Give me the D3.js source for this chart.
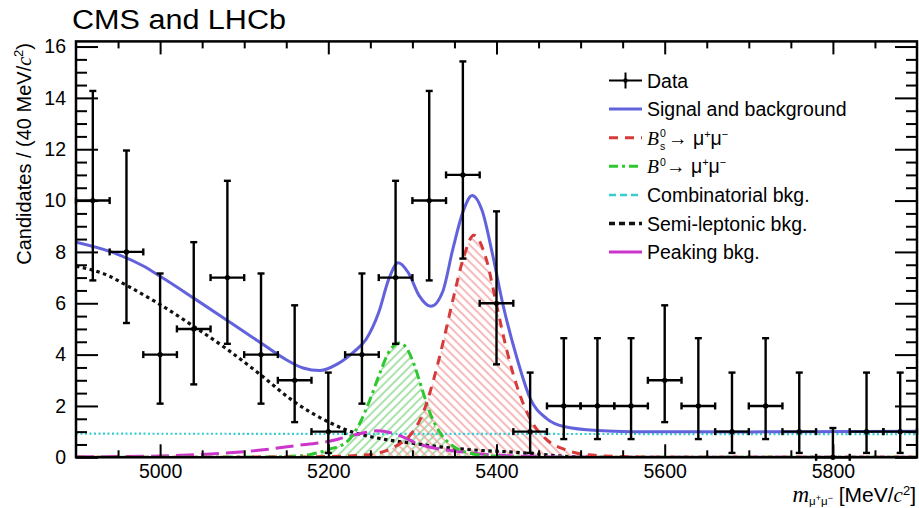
<!DOCTYPE html>
<html>
<head>
<meta charset="utf-8">
<script src="https://cdn.jsdelivr.net/npm/d3@7"></script>
<style>
  body { margin: 0; background: #fff; }
  svg { display: block; }
  text { font-family: "Liberation Sans", Arial, Helvetica, sans-serif; fill: #000; }
</style>
</head>
<body>
<svg id="chart" width="919" height="508"></svg>
<script>
// ---- Data: candidates per 40 MeV/c^2 bin ----
const binCenters = [4920, 4960, 5000, 5040, 5080, 5120, 5160, 5200, 5240, 5280, 5320, 5360, 5400,
                    5440, 5480, 5520, 5560, 5600, 5640, 5680, 5720, 5760, 5800, 5840, 5880];
const counts     = [10, 8, 4, 5, 7, 4, 3, 1, 4, 7, 10, 11, 6, 1, 2, 2, 2, 3, 2, 1, 2, 1, 0, 1, 1];
const errLow     = [3.11, 2.77, 1.91, 2.16, 2.58, 1.91, 1.63, 0.83, 1.91, 2.58, 3.11, 3.26, 2.38,
                    0.83, 1.29, 1.29, 1.29, 1.63, 1.29, 0.83, 1.29, 0.83, 0, 0.83, 0.83];
const errHigh    = [4.27, 3.95, 3.16, 3.38, 3.77, 3.16, 2.92, 2.30, 3.16, 3.77, 4.27, 4.42, 3.58,
                    2.30, 2.64, 2.64, 2.64, 2.92, 2.64, 2.30, 2.64, 2.30, 1.14, 2.30, 2.30];
const binHalfWidth = 20;

// ---- Fit components, [mass, candidates] ----
const signalAndBackground = [
  [4900, 8.38], [4940, 8.02], [4980, 7.45], [5000, 7.05], [5040, 6.2], [5080, 5.33], [5120, 4.45],
  [5150, 3.8], [5170, 3.48], [5190, 3.38], [5210, 3.62], [5230, 4.1], [5245, 4.6], [5260, 5.65],
  [5272, 6.95], [5283, 7.58], [5295, 7.2], [5308, 6.3], [5322, 5.88], [5336, 6.45], [5348, 8.1],
  [5360, 9.55], [5371, 10.2], [5383, 9.6], [5395, 7.95], [5408, 5.9], [5424, 3.9], [5440, 2.3],
  [5460, 1.5], [5480, 1.2], [5520, 1.04], [5560, 1.0], [5700, 0.99], [5900, 1.01]
];
const bsSignal = [
  [4900, 0], [5150, 0.01], [5200, 0.03], [5240, 0.08], [5261, 0.18], [5281, 0.45], [5297, 0.85],
  [5313, 1.75], [5325, 3.0], [5337, 4.55], [5349, 6.25], [5361, 7.8], [5373, 8.65], [5388, 7.7],
  [5400, 5.95], [5412, 4.2], [5424, 2.8], [5440, 1.5], [5460, 0.68], [5483, 0.28], [5507, 0.1],
  [5550, 0.03], [5600, 0], [5900, 0]
];
const bdSignal = [
  [4900, 0], [5100, 0.01], [5150, 0.03], [5180, 0.12], [5200, 0.3], [5222, 0.6], [5237, 1.3],
  [5249, 2.2], [5261, 3.25], [5272, 4.1], [5285, 4.45], [5295, 4.15], [5301, 3.7], [5313, 2.5],
  [5321, 1.72], [5333, 0.95], [5349, 0.42], [5368, 0.16], [5400, 0.04], [5450, 0], [5900, 0]
];
const combinatorialBkg = [[4900, 0.92], [5400, 0.91], [5900, 0.9]];
const semiLeptonicBkg = [
  [4900, 7.45], [4940, 7.05], [4960, 6.7], [5000, 5.95], [5040, 5.1], [5080, 4.2], [5120, 3.2],
  [5160, 2.15], [5200, 1.38], [5222, 1.06], [5260, 0.74], [5300, 0.55], [5340, 0.38], [5380, 0.27],
  [5420, 0.2], [5450, 0.12], [5480, 0.04], [5520, 0], [5900, 0]
];
const peakingBkg = [
  [4900, 0.02], [5000, 0.05], [5060, 0.13], [5120, 0.28], [5160, 0.45], [5200, 0.62], [5220, 0.78],
  [5240, 0.94], [5258, 1.03], [5275, 0.95], [5290, 0.78], [5305, 0.55], [5320, 0.4], [5357, 0.22],
  [5396, 0.09], [5450, 0.03], [5500, 0.01], [5600, 0], [5900, 0]
];

// ---- Axes ----
const xDomain = [4900, 5900];
const yDomain = [0, 16.2];
const xMajorTicks = [5000, 5200, 5400, 5600, 5800];
const xTickLabels = ["5000", "5200", "5400", "5600", "5800"];
const yMajorTicks = [0, 2, 4, 6, 8, 10, 12, 14, 16];
const yTickLabels = ["0", "2", "4", "6", "8", "10", "12", "14", "16"];
const xMinorTicks = d3.range(4950, 5900, 50).filter(v => !xMajorTicks.includes(v));
const yMinorTicks = d3.range(0.5, 16.2, 0.5).filter(v => !yMajorTicks.includes(v));

const legendLabels = ["Data", "Signal and background", "Bs", "Bd",
                      "Combinatorial bkg.", "Semi-leptonic bkg.", "Peaking bkg."];

const colors = {
  total: "#6262dc", bs: "#d63a3a", bd: "#2fc72f", comb: "#35cdd2",
  semi: "#111", peak: "#cc35cc", bsHatch: "#f3a3a3", bdHatch: "#8fd98f"
};

const plot = { left: 76, right: 917, top: 41.4, bottom: 457.3 };
const svg = d3.select("#chart");
const x = d3.scaleLinear(xDomain, [plot.left, plot.right]);
const y = d3.scaleLinear(yDomain, [plot.bottom, plot.top]);

const defs = svg.append("defs");
defs.append("clipPath").attr("id", "plotClip").append("rect")
  .attr("x", plot.left).attr("y", plot.top)
  .attr("width", plot.right - plot.left).attr("height", plot.bottom - plot.top);

function hatch(id, color, angle) {
  const p = defs.append("pattern").attr("id", id).attr("patternUnits", "userSpaceOnUse")
    .attr("width", 6).attr("height", 6).attr("patternTransform", `rotate(${angle})`);
  p.append("line").attr("x1", 3).attr("y1", 0).attr("x2", 3).attr("y2", 6)
    .attr("stroke", color).attr("stroke-width", 1.5);
}
hatch("hatchBs", colors.bsHatch, -45);
hatch("hatchBd", colors.bdHatch, 45);

const g = svg.append("g").attr("clip-path", "url(#plotClip)");

const area = d3.area().x(d => x(d[0])).y0(y(0)).y1(d => y(d[1])).curve(d3.curveMonotoneX);
const line = d3.line().x(d => x(d[0])).y(d => y(d[1])).curve(d3.curveMonotoneX);

// hatched signal areas
g.append("path").attr("d", area(bdSignal)).attr("fill", "url(#hatchBd)");
g.append("path").attr("d", area(bsSignal)).attr("fill", "url(#hatchBs)");

// component curves
const curves = [
  { data: combinatorialBkg, color: colors.comb, width: 2.2, dash: "2,2.5" },
  { data: semiLeptonicBkg, color: colors.semi, width: 3.2, dash: "3.5,3.5" },
  { data: peakingBkg, color: colors.peak, width: 3, dash: "18,7" },
  { data: bdSignal, color: colors.bd, width: 3, dash: "10,4,3,4" },
  { data: bsSignal, color: colors.bs, width: 3, dash: "9,7" },
  { data: signalAndBackground, color: colors.total, width: 3, dash: null }
];
curves.forEach(c => {
  g.append("path").attr("d", line(c.data)).attr("fill", "none")
    .attr("stroke", c.color).attr("stroke-width", c.width)
    .attr("stroke-dasharray", c.dash);
});

// data points with asymmetric errors
const pts = svg.append("g").attr("stroke", "#000").attr("stroke-width", 2.4);
const cap = 3.5;
binCenters.forEach((m, i) => {
  const cx = x(m), cy = y(counts[i]);
  const xl = x(m - binHalfWidth), xr = x(m + binHalfWidth);
  const yt = y(counts[i] + errHigh[i]), yb = y(counts[i] - errLow[i]);
  pts.append("line").attr("x1", xl).attr("x2", xr).attr("y1", cy).attr("y2", cy);
  pts.append("line").attr("x1", cx).attr("x2", cx).attr("y1", yt).attr("y2", yb);
  pts.append("line").attr("x1", xl).attr("x2", xl).attr("y1", cy - cap).attr("y2", cy + cap);
  pts.append("line").attr("x1", xr).attr("x2", xr).attr("y1", cy - cap).attr("y2", cy + cap);
  pts.append("line").attr("x1", cx - cap).attr("x2", cx + cap).attr("y1", yt).attr("y2", yt);
  if (errLow[i] > 0)
    pts.append("line").attr("x1", cx - cap).attr("x2", cx + cap).attr("y1", yb).attr("y2", yb);
  pts.append("circle").attr("cx", cx).attr("cy", cy).attr("r", 2.6).attr("fill", "#000").attr("stroke", "none");
});

// axes: ticks on all four sides, pointing inward
function styleAxis(sel) {
  sel.select(".domain").remove();
  sel.selectAll(".tick line").attr("stroke", "#000").attr("stroke-width", 2);
  sel.selectAll(".tick text").attr("font-size", 19.5).attr("fill", "#000")
    .attr("font-family", '"Liberation Sans", Arial, sans-serif');
}
const xTickFmt = v => xTickLabels[xMajorTicks.indexOf(v)];
const yTickFmt = v => yTickLabels[yMajorTicks.indexOf(v)];

svg.append("g").attr("transform", `translate(0,${plot.bottom})`)
  .call(d3.axisBottom(x).tickValues(xMajorTicks).tickFormat(xTickFmt).tickSizeInner(-13).tickSizeOuter(0).tickPadding(7))
  .call(styleAxis);
svg.append("g").attr("transform", `translate(0,${plot.bottom})`)
  .call(d3.axisBottom(x).tickValues(xMinorTicks).tickFormat("").tickSizeInner(-7).tickSizeOuter(0))
  .call(styleAxis);
svg.append("g").attr("transform", `translate(0,${plot.top})`)
  .call(d3.axisTop(x).tickValues(xMajorTicks).tickFormat("").tickSizeInner(-13).tickSizeOuter(0))
  .call(styleAxis);
svg.append("g").attr("transform", `translate(0,${plot.top})`)
  .call(d3.axisTop(x).tickValues(xMinorTicks).tickFormat("").tickSizeInner(-7).tickSizeOuter(0))
  .call(styleAxis);
svg.append("g").attr("transform", `translate(${plot.left},0)`)
  .call(d3.axisLeft(y).tickValues(yMajorTicks).tickFormat(yTickFmt).tickSizeInner(-22).tickSizeOuter(0).tickPadding(10))
  .call(styleAxis);
svg.append("g").attr("transform", `translate(${plot.left},0)`)
  .call(d3.axisLeft(y).tickValues(yMinorTicks).tickFormat("").tickSizeInner(-11).tickSizeOuter(0))
  .call(styleAxis);
svg.append("g").attr("transform", `translate(${plot.right},0)`)
  .call(d3.axisRight(y).tickValues(yMajorTicks).tickFormat("").tickSizeInner(-22).tickSizeOuter(0))
  .call(styleAxis);
svg.append("g").attr("transform", `translate(${plot.right},0)`)
  .call(d3.axisRight(y).tickValues(yMinorTicks).tickFormat("").tickSizeInner(-11).tickSizeOuter(0))
  .call(styleAxis);

// frame
svg.append("rect").attr("x", plot.left).attr("y", plot.top)
  .attr("width", plot.right - plot.left).attr("height", plot.bottom - plot.top)
  .attr("fill", "none").attr("stroke", "#000").attr("stroke-width", 2.5);

// title
svg.append("text").attr("x", 72).attr("y", 29).attr("font-size", 27)
  .attr("textLength", 214).attr("lengthAdjust", "spacingAndGlyphs").text("CMS and LHCb");

// y axis title
const yt = svg.append("text").attr("transform", "translate(31,43) rotate(-90)")
  .attr("text-anchor", "end").attr("font-size", 20);
yt.append("tspan").text("Candidates / (40 MeV/");
yt.append("tspan").attr("font-family", '"Liberation Serif", serif').attr("font-style", "italic").text("c");
yt.append("tspan").attr("font-size", 13).attr("dy", -8).text("2");
yt.append("tspan").attr("dy", 8).text(")");

// x axis title
const xt = svg.append("text").attr("x", 916).attr("y", 502).attr("text-anchor", "end").attr("font-size", 21);
xt.append("tspan").attr("font-family", '"Liberation Serif", serif').attr("font-style", "italic").attr("font-size", 23).text("m");
xt.append("tspan").attr("font-size", 11.5).attr("dy", 3).text("μ");
xt.append("tspan").attr("font-size", 9).attr("dy", -4).text("+");
xt.append("tspan").attr("font-size", 11.5).attr("dy", 4).text("μ");
xt.append("tspan").attr("font-size", 9).attr("dy", -4).text("−");
xt.append("tspan").attr("dy", 1).text(" [MeV/");
xt.append("tspan").attr("font-family", '"Liberation Serif", serif').attr("font-style", "italic").text("c");
xt.append("tspan").attr("font-size", 13).attr("dy", -7).text("2");
xt.append("tspan").attr("dy", 7).text("]");

// legend
const legRows = [80.5, 109.1, 137.7, 166.3, 194.9, 223.5, 252.1];
const lx0 = 609, lx1 = 642, tx = 647;
const leg = svg.append("g");
// Data marker
leg.append("line").attr("x1", lx0).attr("x2", lx1).attr("y1", legRows[0]).attr("y2", legRows[0]).attr("stroke", "#000").attr("stroke-width", 2);
leg.append("line").attr("x1", 625.5).attr("x2", 625.5).attr("y1", legRows[0] - 8).attr("y2", legRows[0] + 8).attr("stroke", "#000").attr("stroke-width", 2);
leg.append("circle").attr("cx", 625.5).attr("cy", legRows[0]).attr("r", 2.2).attr("fill", "#000");
const legStyles = [null,
  { color: colors.total, dash: null, width: 3 },
  { color: colors.bs, dash: "9,7", width: 3 },
  { color: colors.bd, dash: "9,4,3,4", width: 3 },
  { color: colors.comb, dash: "7,4", width: 2.5 },
  { color: colors.semi, dash: "6,4", width: 3.5 },
  { color: colors.peak, dash: null, width: 3 }
];
legStyles.forEach((s, i) => {
  if (!s) return;
  leg.append("line").attr("x1", lx0).attr("x2", lx1).attr("y1", legRows[i]).attr("y2", legRows[i])
    .attr("stroke", s.color).attr("stroke-width", s.width).attr("stroke-dasharray", s.dash);
});
[0, 1, 4, 5, 6].forEach(i => {
  leg.append("text").attr("x", tx).attr("y", legRows[i] + 7).attr("font-size", 19.5).text(legendLabels[i]);
});

// B meson decay labels: italic B with stacked super/subscripts, then the final state
function decayLabel(row, sub, arrowX) {
  const yb = legRows[row] + 7;
  const t = leg.append("text").attr("x", tx).attr("y", yb).attr("font-size", 19.5);
  t.append("tspan").attr("font-family", '"Liberation Serif", serif').attr("font-style", "italic").text("B");
  t.append("tspan").attr("x", tx + 13).attr("y", yb - 7.5).attr("font-size", 10.5).text("0");
  if (sub) t.append("tspan").attr("x", tx + 13).attr("y", yb + 5).attr("font-size", 10.5).text(sub);
  t.append("tspan").attr("x", arrowX).attr("y", yb).text("→ μ");
  t.append("tspan").attr("font-size", 11).attr("dy", -7).text("+");
  t.append("tspan").attr("dy", 7).text("μ");
  t.append("tspan").attr("font-size", 11).attr("dy", -7).text("−");
}
decayLabel(2, "s", 668);
decayLabel(3, null, 666);
</script>
</body>
</html>
